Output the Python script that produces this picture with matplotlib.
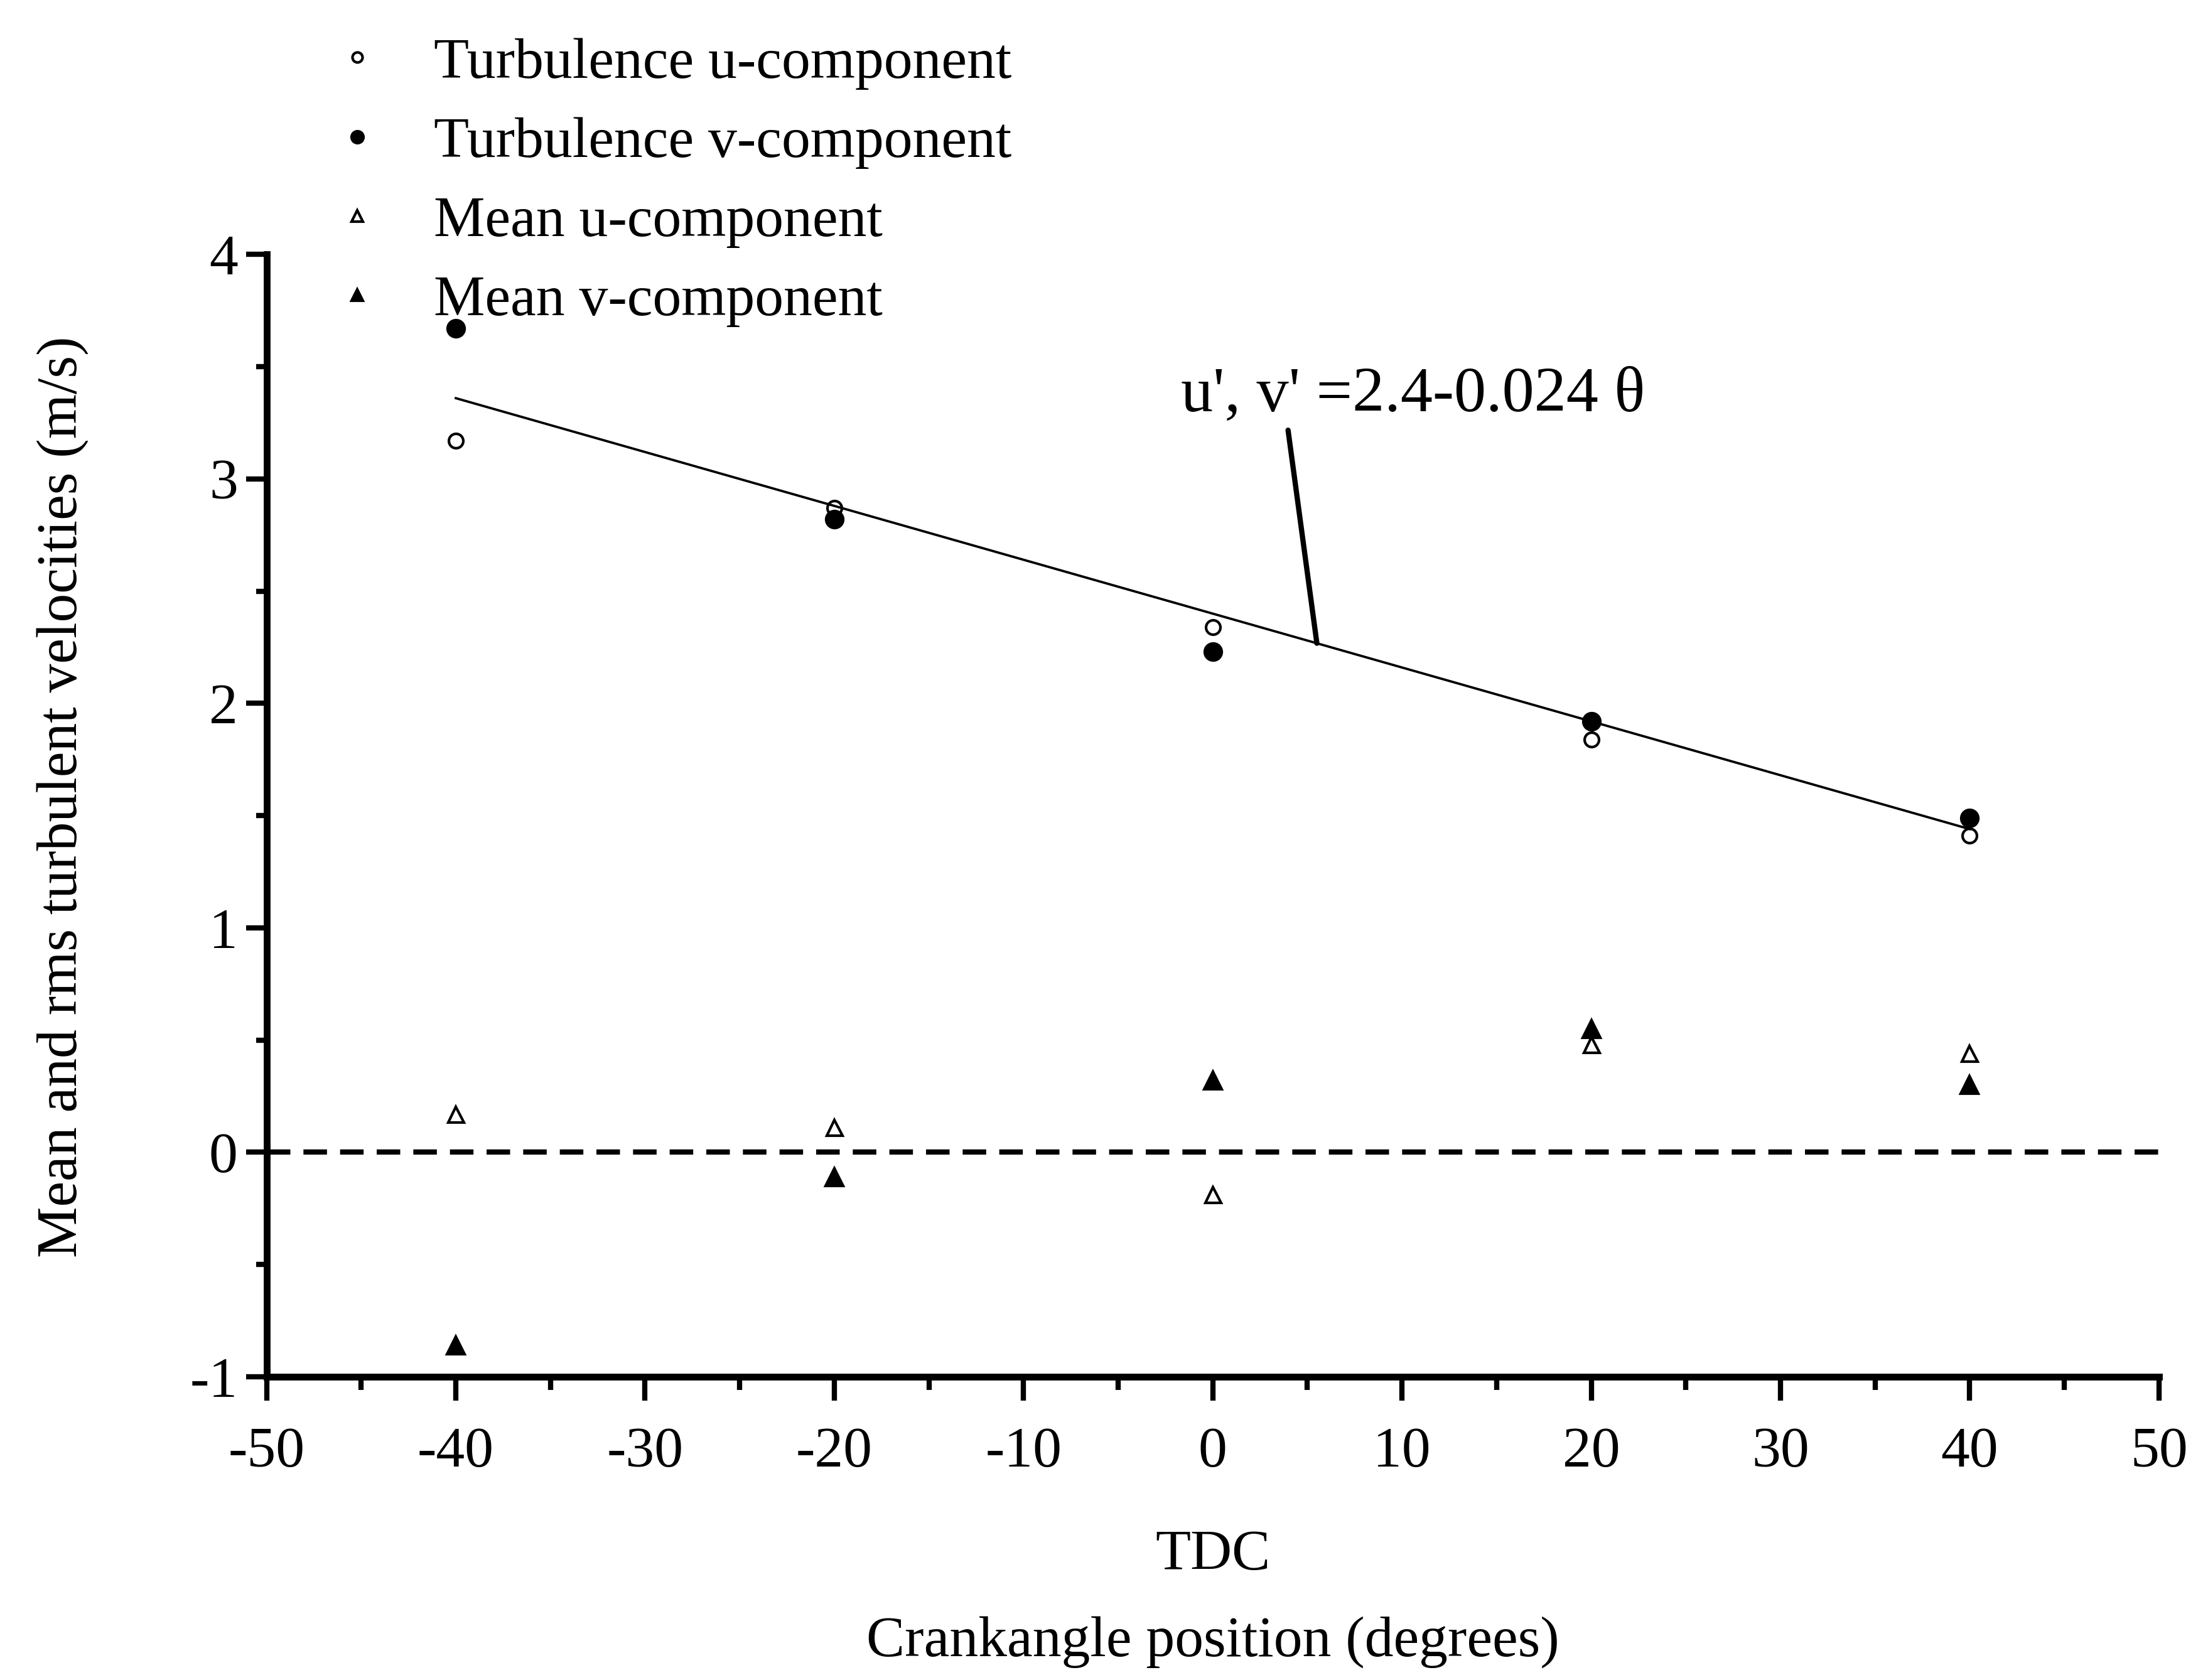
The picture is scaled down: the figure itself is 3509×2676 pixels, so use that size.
import matplotlib
matplotlib.use("Agg")
import matplotlib.pyplot as plt
import numpy as np
from matplotlib.ticker import MultipleLocator

plt.rcParams["font.family"] = ["Liberation Serif", "DejaVu Serif"]
plt.rcParams["axes.unicode_minus"] = False

# crank angle positions (degrees)
crank = [-40, -20, 0, 20, 40]
turb_u = [3.17, 2.87, 2.34, 1.84, 1.41]
turb_v = [3.67, 2.82, 2.23, 1.92, 1.49]
mean_u = [0.17, 0.11, -0.19, 0.48, 0.44]
mean_v = [-0.86, -0.11, 0.32, 0.55, 0.30]

# fitted line u', v' = a + b * theta
fit_a = 2.4
fit_b = -0.024
fit_range = [-40, 40]

fig = plt.figure(figsize=(11.697, 8.92), dpi=300)
ax = fig.add_axes([0.121, 0.1805, 0.859, 0.668])

fs = 22

ax.plot(crank, turb_u, ls="none", marker="o", ms=5.5, mfc="white", mec="black", mew=1.0,
        label="Turbulence u-component")
ax.plot(crank, turb_v, ls="none", marker="o", ms=6.5, mfc="black", mec="black",
        label="Turbulence v-component")
ax.plot(crank, mean_u, ls="none", marker="^", ms=6, mfc="white", mec="black", mew=1.0,
        label="Mean u-component")
ax.plot(crank, mean_v, ls="none", marker="^", ms=6.5, mfc="black", mec="black",
        label="Mean v-component")

th = np.array(fit_range, dtype=float)
ax.plot(th, fit_a + fit_b * th, color="black", lw=0.9)

ax.axhline(0, color="black", lw=2.0, dashes=(4.5, 2.5))

# equation label with pointer
ax.annotate("u', v' =2.4-0.024 \u03b8", xy=(5.5, fit_a + fit_b * 5.5), xytext=(-1.7, 3.37),
            fontsize=24.5, va="center", ha="left",
            arrowprops=dict(arrowstyle="-", color="black", lw=2.0,
                            shrinkA=0, shrinkB=0, relpos=(0.23, 0.0)))

ax.set_xlim(-50, 50)
ax.set_ylim(-1, 4)
ax.xaxis.set_major_locator(MultipleLocator(10))
ax.xaxis.set_minor_locator(MultipleLocator(5))
ax.yaxis.set_major_locator(MultipleLocator(1))
ax.yaxis.set_minor_locator(MultipleLocator(0.5))

for side in ["top", "right"]:
    ax.spines[side].set_visible(False)
for side in ["left", "bottom"]:
    ax.spines[side].set_linewidth(2.6)

ax.tick_params(axis="x", which="major", direction="out", length=9, width=2.0, pad=10, labelsize=fs)
ax.tick_params(axis="x", which="minor", direction="out", length=5, width=2.0)
ax.tick_params(axis="y", which="major", direction="out", length=8, width=2.0, pad=3, labelsize=fs)
ax.tick_params(axis="y", which="minor", direction="out", length=4, width=2.0)

ax.set_xlabel("Crankangle position (degrees)", fontsize=fs, va="top")
ax.xaxis.set_label_coords(0.5, -0.213)
ax.set_ylabel("Mean and rms turbulent velocities (m/s)", fontsize=fs)
ax.yaxis.set_label_coords(-0.094, 0.517)

ax.annotate("TDC", xy=(0, 0.074), xycoords=("data", "figure fraction"),
            ha="center", va="center", fontsize=fs)

fig.legend(loc="upper left", bbox_to_anchor=(0.1386, 0.9915), frameon=False, fontsize=fs,
           markerscale=0.7, handlelength=1.0, handletextpad=0.83, labelspacing=0.47,
           borderaxespad=0)

fig.savefig("out.png", dpi=300, facecolor="white")
